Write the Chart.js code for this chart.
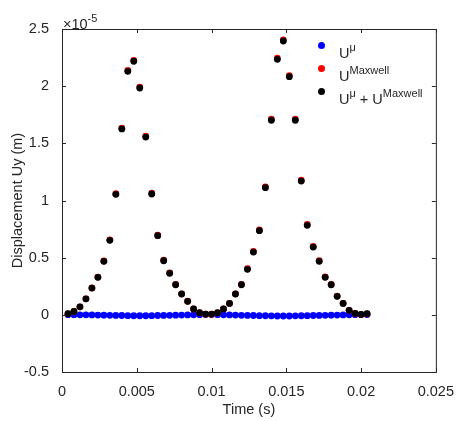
<!DOCTYPE html>
<html>
<head>
<meta charset="utf-8">
<script src="https://cdn.jsdelivr.net/npm/chart.js@4/dist/chart.umd.min.js"></script>
<style>
  body { margin:0; background:#fff; }
  #wrap { position:relative; width:457px; height:421px; font-family:"Liberation Sans", Arial, sans-serif; color:#262626; }
  #wrap canvas { position:absolute; left:0; top:0; }
  .lbl { position:absolute; font-size:14.5px; line-height:14px; white-space:nowrap; }
  .lbl sup { font-size:11px; position:relative; top:-1px; }
  .dot { position:absolute; width:7px; height:7px; border-radius:50%; }
</style>
</head>
<body>
<div id="wrap">
  <canvas id="uyChart" width="457" height="421"></canvas>
  <div class="lbl" style="left:63px;top:12px;">&times;10<sup>-5</sup></div>
  <div class="dot" style="left:318px;top:42px;background:#0000ff"></div>
  <div class="lbl" style="left:339px;top:41px;">U<sup>&mu;</sup></div>
  <div class="dot" style="left:318px;top:65px;background:#ff0000"></div>
  <div class="lbl" style="left:339px;top:64px;">U<sup>Maxwell</sup></div>
  <div class="dot" style="left:318px;top:88px;background:#000000"></div>
  <div class="lbl" style="left:339px;top:87px;">U<sup>&mu;</sup> + U<sup>Maxwell</sup></div>
</div>
<script>
// time (s)
const times = [0.0004,0.0008,0.0012,0.0016,0.0020,0.0024,0.0028,0.0032,0.0036,0.0040,
  0.0044,0.0048,0.0052,0.0056,0.0060,0.0064,0.0068,0.0072,0.0076,0.0080,
  0.0084,0.0088,0.0092,0.0096,0.0100,0.0104,0.0108,0.0112,0.0116,0.0120,
  0.0124,0.0128,0.0132,0.0136,0.0140,0.0144,0.0148,0.0152,0.0156,0.0160,
  0.0164,0.0168,0.0172,0.0176,0.0180,0.0184,0.0188,0.0192,0.0196,0.0200,0.0204];

// displacement, in units of 1e-5 m
const uMu = [0.001,0.001,0,0,-0.001,-0.002,-0.003,-0.004,-0.005,-0.006,
  -0.007,-0.008,-0.008,-0.008,-0.007,-0.006,-0.005,-0.004,-0.003,-0.002,
  -0.001,0,0.001,0.002,0.002,0.001,0,-0.001,-0.002,-0.004,
  -0.005,-0.006,-0.007,-0.008,-0.009,-0.01,-0.01,-0.01,-0.009,-0.008,
  -0.007,-0.006,-0.005,-0.004,-0.003,-0.002,-0.001,0,0.001,0.002,0.002];

const uMaxwell = [0.009,0.029,0.07,0.14,0.235,0.33,0.471,0.656,1.059,1.632,
  2.137,2.226,1.992,1.563,1.064,0.698,0.478,0.367,0.266,0.184,
  0.119,0.051,0.018,0.005,0.005,0.018,0.052,0.101,0.184,0.267,
  0.403,0.555,0.743,1.12,1.711,2.245,2.405,2.093,1.711,1.178,
  0.79,0.599,0.473,0.332,0.266,0.164,0.101,0.039,0.012,0.002,0.008];

const uSum = [0.01,0.03,0.07,0.14,0.234,0.328,0.468,0.652,1.054,1.626,
  2.13,2.218,1.984,1.555,1.057,0.692,0.473,0.363,0.263,0.182,
  0.118,0.051,0.019,0.007,0.007,0.019,0.052,0.10,0.182,0.263,
  0.398,0.549,0.736,1.112,1.702,2.235,2.395,2.083,1.702,1.17,
  0.783,0.593,0.468,0.328,0.263,0.162,0.10,0.039,0.013,0.004,0.01];

const xTickLabels = ['0','0.005','0.01','0.015','0.02','0.025'];
const yTickLabels = ['-0.5','0','0.5','1','1.5','2','2.5'];

const axisColor = '#262626';
const font = {family:'"Liberation Sans", Arial, sans-serif', size:14.5};

function pts(ys){ return times.map((t,i)=>({x:t, y:ys[i]})); }

// box round the axes and ticks pointing inward on all four sides
const boxTicks = {
  id:'boxTicks',
  afterDraw(chart){
    const {ctx, chartArea:a, scales:{x, y}} = chart;
    ctx.save();
    ctx.strokeStyle = axisColor;
    ctx.lineWidth = 1;
    ctx.strokeRect(a.left+0.5, a.top+0.5, a.right-a.left, a.bottom-a.top);
    ctx.beginPath();
    x.ticks.forEach(t=>{
      const px = Math.round(x.getPixelForValue(t.value))+0.5;
      ctx.moveTo(px, a.bottom); ctx.lineTo(px, a.bottom-4);
      ctx.moveTo(px, a.top); ctx.lineTo(px, a.top+4);
    });
    y.ticks.forEach(t=>{
      const py = Math.round(y.getPixelForValue(t.value))+0.5;
      ctx.moveTo(a.left, py); ctx.lineTo(a.left+4, py);
      ctx.moveTo(a.right, py); ctx.lineTo(a.right-4, py);
    });
    ctx.stroke();
    ctx.restore();
  }
};

new Chart(document.getElementById('uyChart'), {
  type:'scatter',
  data:{
    datasets:[
      {label:'U\u03bc', data:pts(uMu), backgroundColor:'#0000ff', borderWidth:0, pointRadius:3.4, order:3},
      {label:'UMaxwell', data:pts(uMaxwell), backgroundColor:'#ff0000', borderWidth:0, pointRadius:3.4, order:2},
      {label:'U\u03bc + UMaxwell', data:pts(uSum), backgroundColor:'#000000', borderWidth:0, pointRadius:3.4, order:1}
    ]
  },
  options:{
    responsive:false,
    animation:false,
    events:[],
    layout:{padding:{top:29, right:20, left:0, bottom:0}},
    plugins:{legend:{display:false}, tooltip:{enabled:false}},
    scales:{
      x:{
        type:'linear', min:0, max:0.025,
        grid:{display:false}, border:{display:false},
        ticks:{stepSize:0.005, color:axisColor, font:font, padding:3, maxRotation:0,
          callback:(v,i)=>xTickLabels[i]},
        title:{display:true, text:'Time (s)', color:axisColor, font:font, padding:{top:0,bottom:2}},
        afterFit:s=>{ s.height = 49; }
      },
      y:{
        min:-0.5, max:2.5,
        grid:{display:false}, border:{display:false},
        ticks:{stepSize:0.5, color:axisColor, font:font, padding:5,
          callback:(v,i)=>yTickLabels[i]},
        title:{display:true, text:'Displacement Uy (m)', color:axisColor, font:font, padding:{top:9,bottom:0}},
        afterFit:s=>{ s.width = 62; }
      }
    }
  },
  plugins:[boxTicks]
});
</script>
</body>
</html>
